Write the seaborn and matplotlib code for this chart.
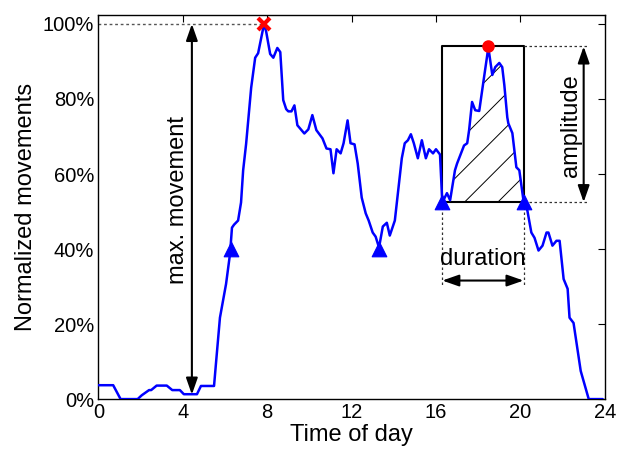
import matplotlib
matplotlib.use("Agg")
import matplotlib.pyplot as plt
import seaborn as sns
import numpy as np
import pandas as pd

# ---- data (hours, % of max movement) ----
hours = [0, 0.7, 1.05, 1.86, 2.05, 2.4, 2.5, 2.76, 3.24, 3.5, 3.86, 4.05, 4.67, 4.86, 5.48,
         5.57, 5.76, 6.05, 6.24, 6.33, 6.43, 6.62, 6.76, 6.86, 7.0, 7.24, 7.43, 7.57, 7.85,
         7.95, 8.14, 8.29, 8.48, 8.62, 8.76, 8.9, 9.0, 9.15, 9.29, 9.43, 9.76, 9.95, 10.14,
         10.33, 10.62, 10.81, 11.0, 11.14, 11.29, 11.48, 11.62, 11.81, 11.95, 12.14, 12.29,
         12.48, 12.67, 12.81, 13.0, 13.14, 13.3, 13.48, 13.67, 13.81, 14.05, 14.38, 14.52,
         14.67, 14.81, 14.95, 15.14, 15.33, 15.52, 15.67, 15.86, 16.0, 16.19, 16.3, 16.52,
         16.67, 16.9, 17.0, 17.33, 17.48, 17.57, 17.71, 17.86, 18.05, 18.24, 18.43, 18.48,
         18.67, 18.81, 19.0, 19.14, 19.24, 19.38, 19.43, 19.62, 19.81, 19.95, 20.15, 20.33,
         20.52, 20.67, 20.86, 21.05, 21.24, 21.33, 21.52, 21.71, 21.86, 22.05, 22.24, 22.33,
         22.52, 22.86, 23.24, 23.9]
movement = [3.7, 3.7, 0, 0, 1.0, 2.4, 2.4, 3.6, 3.6, 2.4, 2.4, 1.3, 1.3, 3.5, 3.5,
            9.4, 21.7, 30.7, 38.8, 45.7, 46.5, 47.6, 52.4, 61.0, 68.0, 83.0, 91.0, 92.2, 100.0,
            98.0, 92.0, 91.0, 93.6, 92.5, 79.7, 77.3, 76.7, 76.7, 78.3, 73.0, 70.8, 71.9, 75.7,
            71.7, 69.5, 66.8, 66.6, 60.2, 66.6, 65.5, 68.2, 74.3, 68.2, 67.9, 62.8,
            53.7, 49.5, 47.6, 44.4, 43.3, 40.4, 46.0, 47.0, 43.6, 47.6, 64.2, 68.2,
            69.0, 70.6, 68.2, 64.2, 69.0, 64.2, 66.6, 65.5, 66.6, 65.2, 52.4, 54.9,
            53.0, 61.0, 62.8, 67.6, 68.2, 71.7, 79.2, 77.0, 76.8, 84.3, 91.7, 93.8,
            86.4, 88.5, 89.6, 88.5, 83.7, 75.1, 73.5, 70.9, 61.8, 61.0, 52.8, 50.3,
            44.4, 43.0, 39.6, 40.9, 44.4, 44.4, 40.9, 42.2, 42.2, 32.0, 29.4, 21.7,
            20.3, 7.5, 0, 0]

trough_t = [6.3, 13.3, 16.3, 20.15]
trough_v = [40.0, 40.0, 52.5, 52.5]
max_t, max_v = 7.85, 100.0
peak_t, peak_v = 18.48, 94.0
xticks = [0, 4, 8, 12, 16, 20, 24]
yticks = [0, 20, 40, 60, 80, 100]

df = pd.DataFrame({"Time of day": hours, "Normalized movements": movement})

sns.set_style("white")
plt.rcParams['font.family'] = ['Liberation Sans', 'DejaVu Sans']
plt.rcParams['text.color'] = 'black'
plt.rcParams['axes.labelcolor'] = 'black'
plt.rcParams['xtick.color'] = 'black'
plt.rcParams['ytick.color'] = 'black'
plt.rcParams['hatch.linewidth'] = 0.7

fig = plt.figure(figsize=(6.19, 4.53), dpi=100)
ax = fig.add_axes([0.159, 0.119, 0.818, 0.848])

t = np.array(hours)
v = np.array(movement)
base = trough_v[2]
mask = (t >= trough_t[2] - 1e-9) & (t <= trough_t[3] + 1e-9)
ax.fill_between(t, v, base, where=mask, interpolate=True, facecolor='none',
                edgecolor='black', hatch='/', linewidth=0, zorder=1)

sns.lineplot(data=df, x="Time of day", y="Normalized movements", ax=ax,
             color='#0000ff', lw=1.8, estimator=None, sort=False, zorder=3)

# rectangle of peak
ax.plot([trough_t[2], trough_t[2], trough_t[3], trough_t[3], trough_t[2]],
        [base, peak_v, peak_v, base, base], color='black', lw=1.5, zorder=2)

# markers
sns.scatterplot(x=trough_t, y=trough_v, ax=ax, marker='^', s=110, color='#0000ff',
                edgecolor='#0000ff', zorder=5)
ax.plot([max_t], [max_v], marker='x', color='red', ms=9, mew=3, zorder=6)
ax.plot([peak_t], [peak_v], marker='o', color='red', ms=8, zorder=6)

# dotted guide lines
ax.plot([0, max_t], [max_v, max_v], ls=(0, (2, 2)), color='#555555', lw=1, zorder=2)
ax.plot([trough_t[3], 23.2], [peak_v, peak_v], ls=(0, (2, 2)), color='#333333', lw=0.9)
ax.plot([trough_t[3], 23.2], [base, base], ls=(0, (2, 2)), color='#333333', lw=0.9)
ax.plot([trough_t[2], trough_t[2]], [base, 30], ls=(0, (2, 2)), color='#333333', lw=0.9)
ax.plot([trough_t[3], trough_t[3]], [base, 30], ls=(0, (2, 2)), color='#333333', lw=0.9)

arrow = dict(arrowstyle='<|-|>,head_length=1.0,head_width=0.35', color='black', lw=1.5,
             shrinkA=0, shrinkB=0)
ax.annotate('', xy=(4.43, max_v), xytext=(4.43, 1.2), arrowprops=arrow)
ax.annotate('', xy=(23.0, peak_v), xytext=(23.0, base), arrowprops=arrow)
ax.annotate('', xy=(trough_t[2], 31.6), xytext=(trough_t[3], 31.6), arrowprops=arrow)

ax.text(3.75, 53, 'max. movement', rotation=90, ha='center', va='center', fontsize=17)
ax.text(22.4, 73, 'amplitude', rotation=90, ha='center', va='center', fontsize=17)
ax.text((trough_t[2] + trough_t[3]) / 2, 37.3, 'duration', ha='center', va='center', fontsize=17)

ax.set_xlim(0, 24)
ax.set_ylim(0, 102.4)
ax.set_xticks(xticks)
ax.set_yticks(yticks)
ax.set_xticklabels([str(x) for x in xticks])
ax.set_yticklabels([f"{y}%" for y in yticks])
ax.tick_params(direction='in', top=True, right=True, length=5, width=0.8,
               labelsize=14.5, pad=3, colors='black')
ax.set_xlabel('Time of day', fontsize=17, labelpad=1)
ax.set_ylabel('Normalized movements', fontsize=17, labelpad=4)
for s in ax.spines.values():
    s.set_visible(True)
    s.set_color('black')
    s.set_linewidth(1.0)

fig.savefig('out.png', dpi=100)
